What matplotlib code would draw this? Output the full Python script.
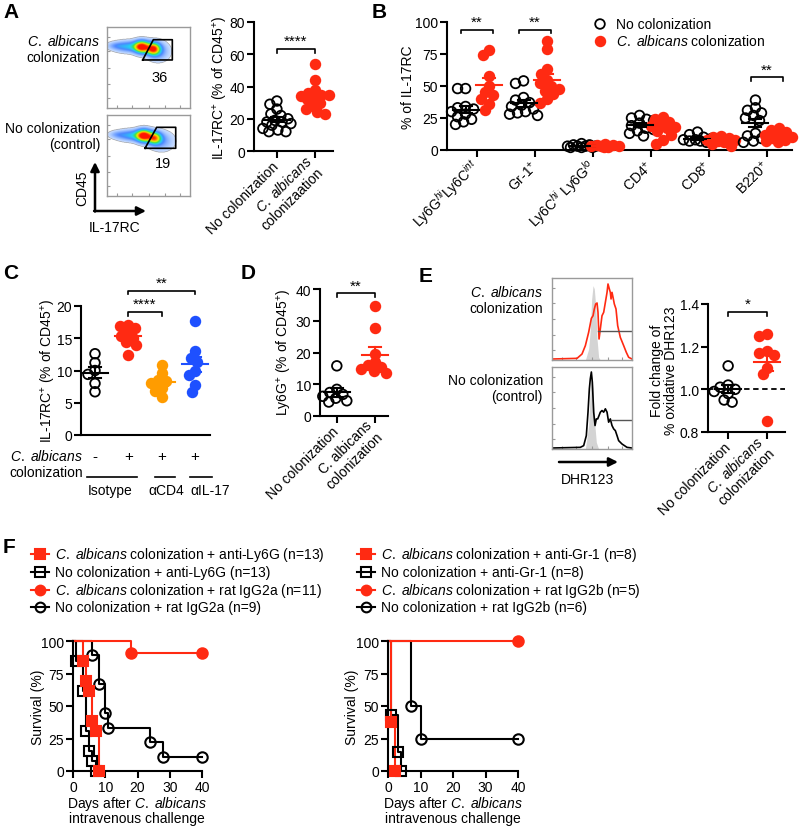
import numpy as np
import matplotlib
matplotlib.use('Agg')
import matplotlib.pyplot as plt
from matplotlib.colors import LinearSegmentedColormap

plt.rcParams['font.family'] = ['Liberation Sans', 'DejaVu Sans']
plt.rcParams['mathtext.fontset'] = 'custom'
plt.rcParams['mathtext.rm'] = 'Liberation Sans'
plt.rcParams['mathtext.it'] = 'Liberation Sans:italic'
plt.rcParams['mathtext.bf'] = 'Liberation Sans:bold'
plt.rcParams['font.size'] = 10

W, H = 800, 828
RED = '#ff2a12'
ORANGE = '#ff9c00'
BLUE = '#1e50ff'
CA = r'$\mathit{C.\ albicans}$'

# ---------------- data ----------------
# A: IL-17RC+ (% of CD45+)
a_cats = ['No colonization', CA + '\ncolonizaation']
a_no = [31, 29, 26, 23, 22, 20, 19, 18, 18, 17, 16, 14, 13, 12, 12]
a_ca = [54, 44, 38, 36, 35, 35, 34, 33, 32, 30, 28, 26, 24, 23]
a_gate_pct = ['36', '19']

# B: % of IL-17RC
b_cats = [r'Ly6G$^{hi}$Ly6C$^{int}$', r'Gr-1$^{+}$', r'Ly6C$^{hi}$ Ly6G$^{lo}$',
          r'CD4$^{+}$', r'CD8$^{+}$', r'B220$^{+}$']
b_no = [[48, 48, 34, 33, 32, 30, 28, 26, 24, 22, 20],
        [54, 52, 41, 39, 37, 35, 34, 32, 30, 29, 28, 27],
        [5, 4, 4, 3, 3, 3, 2, 2, 2, 3],
        [27, 25, 24, 23, 21, 19, 17, 16, 15, 13, 11],
        [14, 12, 10, 9, 8, 8, 7, 7, 6, 6],
        [39, 33, 31, 29, 27, 25, 23, 13, 11, 9, 7, 6]]
b_ca = [[78, 74, 58, 50, 45, 43, 40, 36, 31],
        [85, 79, 63, 59, 55, 52, 50, 48, 46, 44, 40, 37],
        [5, 4, 4, 3, 3, 3, 2, 2],
        [26, 24, 22, 20, 19, 18, 17, 15, 12, 8, 5],
        [11, 10, 9, 8, 8, 7, 6, 5, 3],
        [17, 16, 14, 12, 11, 10, 9, 8, 7, 6]]
b_sig = [(0, '**', 94), (1, '**', 94), (5, '**', 57)]

# C: antibody depletion
c_groups = ['Isotype', 'αCD4', 'αIL-17']
c_signs = ['-', '+', '+', '+']
c_iso_no = [12.6, 11.2, 10.0, 9.4, 8.0, 6.7]
c_iso_ca = [17.1, 16.9, 16.6, 15.9, 15.4, 15.0, 14.4, 13.9, 12.4]
c_cd4 = [10.9, 9.6, 8.6, 8.3, 8.0, 7.3, 6.8, 5.9]
c_il17 = [17.6, 13.0, 12.0, 11.3, 10.0, 9.3, 7.8, 6.7]

# D: Ly6G+ (% of CD45+)
d_cats = ['No colonization', 'C. albicans\ncolonization']
d_no = [15.8, 8.4, 7.4, 6.8, 6.2, 5.6, 4.8, 4.4]
d_ca = [34.6, 27.6, 19.5, 17.0, 16.0, 15.5, 14.8, 14.2, 13.6]

# E: fold change of % oxidative DHR123
e_cats = ['No colonization', CA + '\ncolonization']
e_no = [1.11, 1.02, 1.01, 1.00, 0.99, 0.98, 0.95, 0.94]
e_ca = [1.26, 1.25, 1.18, 1.17, 1.16, 1.10, 1.07, 0.85]

# E: DHR123 histograms (x, y in % of box)
e_ca_x = [0, 31.3, 37.5, 41.7, 45.8, 49.2, 51.3, 52.9, 54.6, 56.3, 57.5, 58.8, 60.4, 62.5,
          64.6, 66.7, 68.8, 70, 71.7, 72.9, 73.8, 75, 76.3, 77.9, 80, 82.1, 85.4, 89.6,
          92.9, 95.8, 100]
e_ca_y = [1.2, 2, 7.3, 17.5, 33.7, 50.8, 54, 62.2, 68.3, 69.5, 58.1, 25.6, 37.8, 54,
          58.1, 70.3, 82.5, 92.7, 86.6, 82.5, 74.4, 82.5, 76.4, 68.3, 62.2, 41.9, 27.6,
          17.5, 9.3, 3.3, 1.2]
e_iso1_x = [41.7, 45.8, 47.9, 49.6, 51.3, 52.9, 54.6, 56.3, 58.3, 60.4]
e_iso1_y = [0, 13.4, 37.8, 74.4, 90.7, 86.6, 66.3, 25.6, 3.3, 0]
e_no_x = [0, 35.4, 39.6, 42.9, 45, 46.7, 47.9, 49.2, 50.4, 52.1, 53.8, 55.4, 57.1, 58.8,
          60.4, 62.5, 64.6, 66.7, 68.8, 70.8, 72.9, 75, 77.1, 79.2, 81.3, 83.3, 87.5,
          93.8, 100]
e_no_y = [1.2, 2, 4.1, 16.3, 44.9, 73.5, 85.7, 93.9, 81.6, 44.9, 28.6, 36.7, 36.7, 40.8,
          44.9, 46.9, 44.9, 49, 44.9, 32.7, 36.7, 28.6, 24.5, 22.4, 16.3, 10.2, 6.1, 2, 1.2]
e_iso2_x = [41.7, 45.8, 47.9, 49.6, 51.3, 52.9, 55.4, 58.3]
e_iso2_y = [0, 28.6, 73.5, 89.8, 73.5, 36.7, 8.2, 0]

# F: survival (event day, survival % after event), censored at day 40
f1_ca_ly6g_t, f1_ca_ly6g_s = [3, 4, 5, 6, 7, 8], [84.6, 69.2, 61.5, 38.5, 30.8, 0]
f1_no_ly6g_t, f1_no_ly6g_s = [1, 3, 4, 5, 6, 7], [84.6, 61.5, 30.8, 15.4, 7.7, 0]
f1_ca_iso_t, f1_ca_iso_s = [18], [90.9]
f1_no_iso_t, f1_no_iso_s = [6, 8, 10, 11, 24, 28], [88.9, 66.7, 44.4, 33.3, 22.2, 11.1]
f2_ca_gr1_t, f2_ca_gr1_s = [1, 2], [37.5, 0]
f2_no_gr1_t, f2_no_gr1_s = [1, 3, 4], [42.9, 14.3, 0]
f2_ca_iso_t, f2_ca_iso_s = [], []
f2_no_iso_t, f2_no_iso_s = [7, 10], [50, 25]
f1_labels = [CA + ' colonization + anti-Ly6G (n=13)', 'No colonization + anti-Ly6G (n=13)',
             CA + ' colonization + rat IgG2a (n=11)', 'No colonization + rat IgG2a (n=9)']
f2_labels = [CA + ' colonization + anti-Gr-1 (n=8)', 'No colonization + anti-Gr-1 (n=8)',
             CA + ' colonization + rat IgG2b (n=5)', 'No colonization + rat IgG2b (n=6)']

# ---------------- helpers ----------------
fig = plt.figure(figsize=(8, 8.28), dpi=100)


def px_axes(l, t, r, b):
    return fig.add_axes([l / W, 1 - b / H, (r - l) / W, (b - t) / H])


def prism(ax, xlim, ylim, yticks):
    ax.set_xlim(*xlim)
    ax.set_ylim(*ylim)
    ax.set_yticks(yticks)
    for s in ['top', 'right']:
        ax.spines[s].set_visible(False)
    for s in ['left', 'bottom']:
        ax.spines[s].set_linewidth(1.5)
    ax.tick_params(width=1.5, length=5, labelsize=10, pad=1.5)


def ppu(ax):
    bb = ax.get_position()
    x0, x1 = ax.get_xlim()
    y0, y1 = ax.get_ylim()
    return bb.width * W / (x1 - x0), bb.height * H / (y1 - y0)


def swarm(vals, yp, d=7.5, maxoff=14):
    cands = sorted(np.arange(-maxoff, maxoff + 0.5, 1.0), key=lambda c: (abs(c), c))
    placed = []
    offs = np.zeros(len(vals))
    for i in np.argsort(-np.asarray(vals)):
        y = vals[i] * yp
        best, bestd = 0.0, -1
        for c in cands:
            md = min([np.hypot(c - px, y - py) for px, py in placed], default=1e9)
            if md >= d:
                best = c
                break
            if md > bestd:
                best, bestd = c, md
        placed.append((best, y))
        offs[i] = best
    return offs


def dots(ax, xc, vals, color, filled=True):
    vals = np.asarray(vals, float)
    xp, yp = ppu(ax)
    off = swarm(vals, yp) / xp
    ax.scatter(xc + off, vals, s=48, facecolors=color if filled else 'none',
               edgecolors=color, linewidths=1.3, clip_on=False, zorder=3)
    m = vals.mean()
    se = vals.std(ddof=1) / np.sqrt(len(vals))
    hw, cw = 13 / xp, 6 / xp
    kw = dict(color=color, lw=1.5, zorder=4, clip_on=False)
    ax.plot([xc - hw, xc + hw], [m, m], **kw)
    ax.plot([xc, xc], [m - se, m + se], **kw)
    ax.plot([xc - cw, xc + cw], [m + se] * 2, **kw)
    ax.plot([xc - cw, xc + cw], [m - se] * 2, **kw)


def bracket(ax, x1, x2, y, h, text):
    ax.plot([x1, x1, x2, x2], [y - h, y, y, y - h], color='k', lw=1.2, clip_on=False)
    ax.text((x1 + x2) / 2, y + h * 0.2, text, ha='center', va='bottom', fontsize=11)


def cat_labels(ax, labels):
    ax.set_xticks(range(len(labels)))
    ax.set_xticklabels(labels, rotation=45, ha='right', va='center', rotation_mode='anchor')
    ax.tick_params(axis='x', pad=4)


flow_cmap = LinearSegmentedColormap.from_list(
    'flow', [(0.0, '#e6efff'), (0.1, '#a8c8ff'), (0.25, '#4a86ff'), (0.4, '#22d4f2'),
             (0.55, '#3ee23e'), (0.7, '#f2f200'), (0.85, '#ff8a00'), (1.0, '#ff1400')])


def flow_box(ax, blobs, gate_x, gate_y):
    g = np.linspace(0, 100, 240)
    X, Y = np.meshgrid(g, g)
    Z = np.zeros_like(X)
    for cx, cy, sx, sy, w in blobs:
        Z += w * np.exp(-((X - cx) ** 2 / (2 * sx ** 2) + (Y - cy) ** 2 / (2 * sy ** 2)))
    Z = np.ma.masked_less(Z, 0.04)
    ax.imshow(Z, extent=(0, 100, 0, 100), origin='lower', cmap=flow_cmap, vmin=0, vmax=1.0,
              interpolation='bilinear', aspect='auto')
    ax.plot(gate_x, gate_y, color='k', lw=1.2)
    box_style(ax)


def box_style(ax):
    ax.set_xlim(0, 100)
    ax.set_ylim(0, 100)
    for s in ax.spines.values():
        s.set_color('#9a9a9a')
        s.set_linewidth(1)
    ax.set_xticks([12, 30, 50, 70, 88])
    ax.set_yticks([12, 30, 50, 70, 88])
    ax.tick_params(direction='in', length=2, width=0.8, colors='#9a9a9a',
                   labelbottom=False, labelleft=False)


def km(ax, times, surv, color, marker, filled, end=40):
    x = [0] + list(times) + [end]
    last = surv[-1] if surv else 100
    y = [100] + list(surv) + [last]
    if last == 0:
        x, y = x[:-1], y[:-1]
    ax.step(x, y, where='post', color=color, lw=1.5, clip_on=False, zorder=2)
    mx, my = list(times), list(surv)
    if last > 0:
        mx.append(end)
        my.append(last)
    ax.plot(mx, my, ls='none', marker=marker, ms=7.5, mfc=color if filled else 'none',
            mec=color, mew=1.5, clip_on=False, zorder=3)


# ---------------- A ----------------
top_blobs = [(42, 75.5, 6, 5, 1.0), (56, 73, 5.5, 5, 0.9), (27, 76, 12, 4.5, 0.35),
             (10, 77, 7, 3, 0.12), (62, 70, 9, 8, 0.2)]
bot_blobs = [(44.5, 74.5, 6, 5, 1.0), (57.5, 71.5, 5.5, 5, 0.75), (31, 75, 12, 4.5, 0.35),
             (12, 76, 7, 3, 0.12), (66, 68, 10, 8, 0.18)]
flow_box(px_axes(107, 28, 190, 109), top_blobs, [43, 55.8, 78.7, 78.7, 43], [59.3, 84.3, 84.3, 59.3, 59.3])
flow_box(px_axes(107, 116, 190, 197), bot_blobs, [45.8, 59.9, 82.8, 82.8, 45.8], [58.9, 84.8, 84.8, 58.9, 58.9])

axA = px_axes(254, 23, 333, 152)
prism(axA, (-0.6, 1.47), (0, 80), [0, 20, 40, 60, 80])
dots(axA, 0, a_no, 'black', filled=False)
dots(axA, 1, a_ca, RED)
cat_labels(axA, a_cats)
bracket(axA, 0, 1, 63.4, 2.4, '****')

# ---------------- B ----------------
axB = px_axes(447, 23, 792, 151)
prism(axB, (-0.52, 5.43), (0, 100), [0, 25, 50, 75, 100])
for i in range(len(b_cats)):
    dots(axB, i - 0.2, b_no[i], 'black', filled=False)
    dots(axB, i + 0.2, b_ca[i], RED)
cat_labels(axB, b_cats)
for i, t, y in b_sig:
    bracket(axB, i - 0.28, i + 0.28, y, 2.8, t)

# ---------------- C ----------------
axC = px_axes(81, 307, 210, 436)
prism(axC, (-0.42, 3.45), (0, 20), [0, 5, 10, 15, 20])
axC.set_xticks([])
dots(axC, 0, c_iso_no, 'black', filled=False)
dots(axC, 1, c_iso_ca, RED)
dots(axC, 2, c_cd4, ORANGE)
dots(axC, 3, c_il17, BLUE)
bracket(axC, 1, 2, 19.1, 0.6, '****')
bracket(axC, 1, 3, 22.4, 0.6, '**')

# ---------------- D ----------------
axD = px_axes(320, 290, 388, 417)
prism(axD, (-0.44, 1.34), (0, 40), [0, 10, 20, 30, 40])
dots(axD, 0, d_no, 'black', filled=False)
dots(axD, 1, d_ca, RED)
cat_labels(axD, d_cats)
bracket(axD, 0, 1, 38.7, 1.1, '**')

# ---------------- E ----------------
for (t, b), cx, cy, ix, iy, col, gx0, gy in [
        ((279, 361), e_ca_x, e_ca_y, e_iso1_x, e_iso1_y, RED, 57.1, 35.8),
        ((368, 450), e_no_x, e_no_y, e_iso2_x, e_iso2_y, 'black', 73.8, 35.9)]:
    axh = px_axes(552, t, 632, b)
    axh.fill_between(ix, iy, color='#d4d4d4', lw=0)
    axh.plot(cx, cy, color=col, lw=1.2)
    axh.plot([gx0, 100], [gy, gy], color='#555555', lw=1)
    box_style(axh)

axE = px_axes(708, 305, 785, 433)
prism(axE, (-0.52, 1.47), (0.8, 1.4), [0.8, 1.0, 1.2, 1.4])
axE.set_yticklabels(['0.8', '1.0', '1.2', '1.4'])
axE.axhline(1.0, color='k', ls=(0, (3, 2)), lw=1.3, zorder=1)
dots(axE, 0, e_no, 'black', filled=False)
dots(axE, 1, e_ca, RED)
cat_labels(axE, e_cats)
bracket(axE, 0, 1, 1.362, 0.02, '*')

# ---------------- F ----------------
for (l, r), curves in [((73, 202), [(f1_no_ly6g_t, f1_no_ly6g_s, 'black', 's', False),
                                    (f1_no_iso_t, f1_no_iso_s, 'black', 'o', False),
                                    (f1_ca_iso_t, f1_ca_iso_s, RED, 'o', True),
                                    (f1_ca_ly6g_t, f1_ca_ly6g_s, RED, 's', True)]),
                       ((388, 518), [(f2_no_gr1_t, f2_no_gr1_s, 'black', 's', False),
                                     (f2_no_iso_t, f2_no_iso_s, 'black', 'o', False),
                                     (f2_ca_iso_t, f2_ca_iso_s, RED, 'o', True),
                                     (f2_ca_gr1_t, f2_ca_gr1_s, RED, 's', True)])]:
    axF = px_axes(l, 642, r, 772)
    prism(axF, (0, 40), (0, 100), [0, 25, 50, 75, 100])
    axF.set_xticks([0, 10, 20, 30, 40])
    for t_, s_, c_, m_, f_ in curves:
        km(axF, t_, s_, c_, m_, f_)

# ---------------- overlay text / arrows ----------------
ov = fig.add_axes([0, 0, 1, 1])
ov.set_xlim(0, W)
ov.set_ylim(H, 0)
ov.axis('off')
ov.patch.set_alpha(0)


def txt(x, y, s, **kw):
    kw.setdefault('ha', 'center')
    kw.setdefault('va', 'center')
    kw.setdefault('fontsize', 10)
    ov.text(x, y, s, **kw)


for lab, x, y in [('A', 11, 13), ('B', 379, 13), ('C', 11, 274), ('D', 248, 274),
                  ('E', 426, 277), ('F', 9, 548)]:
    txt(x, y, lab, fontsize=15, fontweight='bold')

# A
txt(100, 42, CA, ha='right')
txt(100, 58, 'colonization', ha='right')
txt(100, 129, 'No colonization', ha='right')
txt(100, 145, '(control)', ha='right')
txt(160, 78, a_gate_pct[0], fontsize=10.5)
txt(163, 164, a_gate_pct[1], fontsize=10.5)
ov.annotate('', xy=(95, 163), xytext=(95, 212.5),
            arrowprops=dict(arrowstyle='-|>', lw=1.8, color='k', mutation_scale=13, shrinkA=0, shrinkB=0))
ov.annotate('', xy=(146, 212), xytext=(94.1, 212),
            arrowprops=dict(arrowstyle='-|>', lw=1.8, color='k', mutation_scale=13, shrinkA=0, shrinkB=0))
txt(82, 188, 'CD45', rotation=90)
txt(115, 228, 'IL-17RC')
txt(220, 88, r'IL-17RC$^{+}$ (% of CD45$^{+}$)', rotation=90)

# B
txt(408, 87, '% of IL-17RC', rotation=90)
ov.scatter([600], [25], s=48, facecolors='none', edgecolors='k', linewidths=1.3)
ov.scatter([600], [42], s=48, facecolors=RED, edgecolors=RED, linewidths=1.3)
txt(616, 25, 'No colonization', ha='left')
txt(616, 42, CA + ' colonization', ha='left')

# C
txt(48, 371, r'IL-17RC$^{+}$ (% of CD45$^{+}$)', rotation=90)
txt(83, 457, CA, ha='right')
txt(83, 473, 'colonization', ha='right')
for i, s in enumerate(c_signs):
    txt(95 + i * 33.3, 457, s, fontsize=11)
for (x0, x1), name, xc in zip([(87, 137), (155, 175), (190, 212)], c_groups, [110, 166, 210]):
    ov.plot([x0, x1], [478, 478], color='k', lw=1.2)
    txt(xc, 491, name)

# D
txt(284, 353, r'Ly6G$^{+}$ (% of CD45$^{+}$)', rotation=90)

# E
txt(543, 293, CA, ha='right')
txt(543, 309, 'colonization', ha='right')
txt(543, 381, 'No colonization', ha='right')
txt(543, 397, '(control)', ha='right')
ov.annotate('', xy=(618, 463), xytext=(559, 463),
            arrowprops=dict(arrowstyle='-|>', lw=1.8, color='k', mutation_scale=13, shrinkA=0, shrinkB=0))
txt(587, 480, 'DHR123')
txt(664, 371, 'Fold change of\n% oxidative DHR123', rotation=90, linespacing=1.05)

# F legends and labels
styles = [(RED, 's', True), ('black', 's', False), (RED, 'o', True), ('black', 'o', False)]
for x0, labels in [(40, f1_labels), (366, f2_labels)]:
    for k, (lab, (c, m, f)) in enumerate(zip(labels, styles)):
        y = 555 + k * 17.8
        ov.plot([x0 - 9, x0 + 9], [y, y], color=c, lw=1.5)
        ov.plot([x0], [y], marker=m, ms=7, mfc=c if f else 'none', mec=c, mew=1.5)
        txt(x0 + 15, y, lab, ha='left')
for xc, yl in [(137, 38), (453, 352)]:
    txt(xc, 804, 'Days after ' + CA)
    txt(xc, 819, 'intravenous challenge')
    txt(yl, 707, 'Survival (%)', rotation=90)

fig.savefig('out.png', dpi=100)
